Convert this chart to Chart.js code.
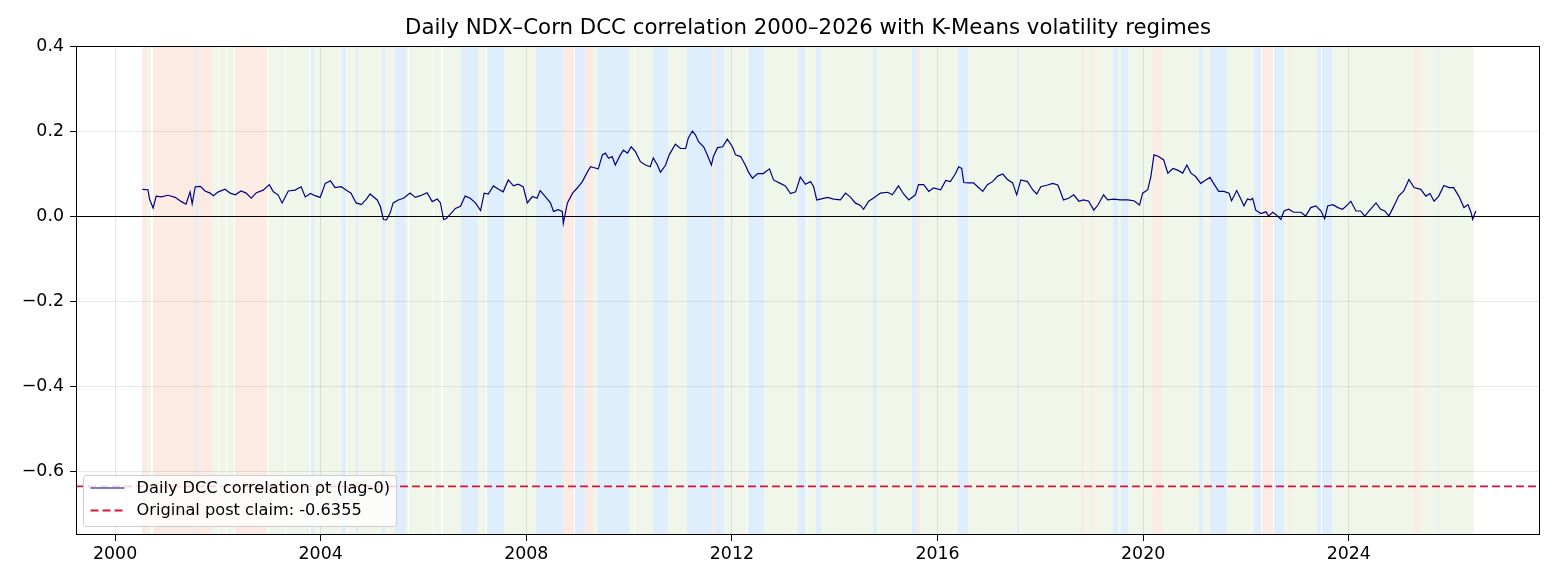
<!DOCTYPE html>
<html>
<head>
<meta charset="utf-8">
<script src="https://cdn.jsdelivr.net/npm/chart.js@4.4.1/dist/chart.umd.min.js"></script>
<style>
  html, body { margin: 0; padding: 0; background: #ffffff; }
  #wrap { width: 1560px; height: 585px; position: relative; }
</style>
</head>
<body>
<div id="wrap"><canvas id="c" width="1560" height="585"></canvas></div>
<script>
// ---------------- DATA ----------------
const chartTitle = "Daily NDX\u2013Corn DCC correlation 2000\u20132026 with K-Means volatility regimes";
const seriesLabel = "Daily DCC correlation \u03c1t (lag-0)";
const claimLabel = "Original post claim: -0.6355";
const claimValue = -0.6355;

const xTicks = [2000, 2004, 2008, 2012, 2016, 2020, 2024];
const yTicks = [-0.6, -0.4, -0.2, 0.0, 0.2, 0.4];
const yTickLabels = ["\u22120.6", "\u22120.4", "\u22120.2", "0.0", "0.2", "0.4"];

const years = [
2000.53,2000.64,2000.67,2000.74,2000.80,2000.90,2001.03,2001.17,2001.29,2001.38,2001.46,2001.50,2001.56,2001.66,2001.75,2001.85,2001.91,
2002.01,2002.14,2002.24,2002.34,2002.45,2002.55,2002.65,2002.75,2002.88,2003.00,2003.08,2003.17,2003.25,2003.37,2003.50,2003.62,2003.70,2003.80,2003.89,2003.99,
2004.09,2004.19,2004.28,2004.40,2004.50,2004.59,2004.69,2004.79,2004.89,2004.96,2005.02,2005.10,2005.16,2005.22,2005.28,2005.35,2005.41,2005.51,2005.61,2005.74,2005.84,2005.94,
2006.07,2006.17,2006.27,2006.33,2006.39,2006.44,2006.52,2006.62,2006.72,2006.81,2006.91,2007.01,2007.11,2007.18,2007.26,2007.36,2007.46,2007.55,2007.65,2007.75,2007.84,2007.94,
2008.02,2008.12,2008.21,2008.27,2008.37,2008.47,2008.53,2008.62,2008.70,2008.72,2008.80,2008.90,2008.99,2009.09,2009.19,2009.25,2009.34,2009.40,2009.48,2009.54,2009.60,2009.67,2009.73,2009.83,2009.89,2009.97,
2010.04,2010.12,2010.22,2010.32,2010.41,2010.47,2010.55,2010.61,2010.71,2010.78,2010.90,2011.00,2011.10,2011.15,2011.23,2011.29,2011.35,2011.45,2011.52,2011.60,2011.64,2011.72,2011.82,2011.91,
2012.01,2012.07,2012.17,2012.26,2012.32,2012.40,2012.50,2012.61,2012.73,2012.81,2012.94,2013.04,2013.14,2013.24,2013.33,2013.43,2013.53,2013.59,2013.65,2013.72,2013.86,2013.98,
2014.11,2014.21,2014.31,2014.40,2014.50,2014.56,2014.66,2014.75,2014.89,2015.03,2015.12,2015.24,2015.34,2015.44,2015.57,2015.63,2015.73,2015.83,2015.92,
2016.06,2016.16,2016.25,2016.35,2016.41,2016.47,2016.51,2016.60,2016.70,2016.78,2016.88,2016.97,2017.07,2017.17,2017.27,2017.36,2017.46,2017.54,2017.62,2017.75,2017.85,2017.93,
2018.01,2018.14,2018.24,2018.34,2018.39,2018.45,2018.55,2018.65,2018.75,2018.84,2018.94,2019.04,2019.12,2019.23,2019.31,2019.43,2019.56,2019.70,2019.82,2019.93,2019.99,
2020.09,2020.15,2020.21,2020.30,2020.40,2020.48,2020.58,2020.67,2020.77,2020.85,2020.93,2021.02,2021.12,2021.22,2021.30,2021.37,2021.47,2021.57,2021.67,2021.72,2021.82,2021.90,2021.96,
2022.03,2022.09,2022.13,2022.19,2022.29,2022.39,2022.44,2022.52,2022.58,2022.68,2022.74,2022.83,2022.93,2023.07,2023.16,2023.26,2023.36,2023.46,2023.53,2023.59,2023.69,2023.79,2023.88,2023.98,
2024.04,2024.14,2024.23,2024.31,2024.43,2024.53,2024.62,2024.70,2024.78,2024.88,2024.97,2025.07,2025.17,2025.27,2025.40,2025.50,2025.58,2025.66,2025.75,2025.85,2025.95,
2026.04,2026.14,2026.24,2026.32,2026.38,2026.41,2026.47
];

const rho = [
0.063,0.062,0.040,0.019,0.047,0.045,0.049,0.044,0.034,0.028,0.057,0.029,0.069,0.070,0.059,0.054,0.048,
0.057,0.063,0.054,0.050,0.059,0.054,0.042,0.055,0.061,0.074,0.057,0.050,0.031,0.059,0.061,0.069,0.045,0.053,0.048,0.044,
0.077,0.083,0.067,0.069,0.061,0.054,0.031,0.027,0.040,0.052,0.046,0.038,0.023,-0.008,-0.009,0.007,0.031,0.038,0.042,0.054,0.044,0.048,
0.055,0.034,0.040,0.031,-0.008,-0.006,0.004,0.018,0.023,0.047,0.042,0.031,0.013,0.054,0.052,0.071,0.063,0.057,0.085,0.071,0.075,0.069,
0.031,0.046,0.042,0.060,0.046,0.031,0.011,0.015,0.011,-0.017,0.031,0.054,0.066,0.081,0.104,0.116,0.113,0.111,0.144,0.148,0.136,0.140,0.120,0.144,0.155,0.148,
0.163,0.152,0.128,0.120,0.116,0.137,0.120,0.103,0.120,0.144,0.169,0.159,0.159,0.183,0.200,0.191,0.175,0.163,0.144,0.120,0.140,0.161,0.163,0.181,
0.163,0.144,0.140,0.120,0.104,0.089,0.100,0.100,0.111,0.085,0.077,0.071,0.053,0.057,0.092,0.075,0.081,0.069,0.038,0.040,0.044,0.040,
0.038,0.054,0.044,0.031,0.025,0.016,0.035,0.042,0.054,0.056,0.050,0.071,0.052,0.038,0.050,0.074,0.074,0.058,0.066,
0.062,0.084,0.081,0.100,0.116,0.112,0.079,0.078,0.078,0.069,0.058,0.074,0.081,0.094,0.099,0.086,0.078,0.050,0.085,0.081,0.062,0.052,
0.069,0.073,0.077,0.073,0.058,0.038,0.042,0.050,0.035,0.038,0.035,0.014,0.026,0.050,0.038,0.040,0.038,0.038,0.036,0.026,0.054,
0.062,0.093,0.144,0.140,0.132,0.101,0.112,0.108,0.101,0.120,0.101,0.093,0.077,0.085,0.091,0.077,0.058,0.058,0.054,0.036,0.060,0.040,0.024,
0.040,0.038,0.042,0.014,0.006,0.010,0.000,0.009,0.004,-0.008,0.012,0.016,0.009,0.009,0.000,0.020,0.024,0.012,-0.006,0.024,0.027,0.020,0.016,0.027,
0.035,0.012,0.012,0.000,0.017,0.031,0.016,0.012,0.000,0.024,0.047,0.059,0.086,0.067,0.063,0.047,0.053,0.035,0.047,0.072,0.067,
0.067,0.047,0.020,0.027,0.008,-0.008,0.012
];

// K-Means regime spans (decimal years) and regime ids: H = high vol, M = medium, L = low
const regimeStart = [
2000.53,2000.62,2000.74,2001.58,2001.62,2001.89,2002.02,2002.18,2002.34,2002.98,2003.33,2003.815,2003.87,2004.42,2004.52,2004.69,2004.73,2005.20,2005.26,2005.45,2005.65,2005.72,2006.21,2006.37,2006.72,2007.07,2007.24,2007.57,2008.18,2008.72,2008.95,2009.15,2009.29,2009.40,2009.99,2010.12,2010.47,2010.76,2011.13,2011.62,2011.68,2011.84,2012.32,2012.63,2013.28,2013.47,2013.63,2013.74,2014.75,2014.83,2015.51,2015.61,2015.67,2016.39,2016.60,2017.54,2017.58,2018.80,2018.84,2019.00,2019.04,2019.41,2019.52,2019.56,2019.70,2020.19,2020.36,2021.08,2021.16,2021.31,2021.63,2022.15,2022.31,2022.54,2022.74,2022.83,2022.87,2023.38,2023.47,2023.67,2025.27,2025.36,2025.73,2025.75
];
const regimeEnd = [
2000.62,2000.70,2001.58,2001.62,2001.89,2002.00,2002.16,2002.32,2002.96,2003.31,2003.80,2003.87,2004.42,2004.50,2004.69,2004.73,2005.20,2005.26,2005.45,2005.65,2005.70,2006.19,2006.35,2006.72,2007.07,2007.22,2007.57,2008.18,2008.72,2008.93,2009.15,2009.29,2009.40,2009.99,2010.10,2010.47,2010.76,2011.13,2011.62,2011.68,2011.84,2012.30,2012.63,2013.28,2013.45,2013.63,2013.74,2014.75,2014.83,2015.51,2015.61,2015.67,2016.39,2016.60,2017.54,2017.58,2018.80,2018.84,2019.00,2019.04,2019.41,2019.52,2019.56,2019.70,2020.19,2020.36,2021.08,2021.16,2021.31,2021.63,2022.15,2022.29,2022.52,2022.74,2022.83,2022.87,2023.38,2023.46,2023.67,2025.27,2025.36,2025.73,2025.75,2026.43
];
const regimeId = [
"H","L","H","M","H","L","L","L","H","L","L","M","L","M","L","M","L","M","L","M","L","L","L","L","M","L","M","L","M","H","M","H","L","M","L","L","M","L","M","H","M","L","M","L","M","L","M","L","M","L","M","H","L","M","L","M","L","H","L","H","L","M","L","M","L","H","L","M","L","M","L","M","H","M","L","H","L","M","M","L","H","L","M","L"
];
const regimeColors = { H: "rgba(252,232,222,0.85)", M: "rgba(220,236,253,0.9)", L: "rgba(237,245,230,0.85)" };

// ---------------- CHART ----------------
const FONT = '"DejaVu Sans", "Liberation Sans", sans-serif';

const bandsPlugin = {
  id: "bands",
  beforeDraw(chart) {
    const { ctx, chartArea: a, scales: { x } } = chart;
    ctx.save();
    ctx.beginPath();
    ctx.rect(a.left, a.top, a.right - a.left, a.bottom - a.top);
    ctx.clip();
    for (let i = 0; i < regimeId.length; i++) {
      const x0 = Math.round(x.getPixelForValue(regimeStart[i]));
      const x1 = Math.round(x.getPixelForValue(regimeEnd[i]));
      ctx.fillStyle = regimeColors[regimeId[i]];
      ctx.fillRect(x0, a.top, Math.max(1, x1 - x0), a.bottom - a.top);
    }
    ctx.restore();
  }
};

const overlayPlugin = {
  id: "overlay",
  afterDatasetsDraw(chart) {
    const { ctx, chartArea: a, scales: { y } } = chart;
    ctx.save();
    const y0 = Math.round(y.getPixelForValue(0)) + 0.5;
    ctx.strokeStyle = "#000000";
    ctx.lineWidth = 1;
    ctx.beginPath(); ctx.moveTo(a.left, y0); ctx.lineTo(a.right, y0); ctx.stroke();
    const yc = y.getPixelForValue(claimValue);
    ctx.strokeStyle = "#dc143c";
    ctx.lineWidth = 1.8;
    ctx.setLineDash([8, 4]);
    ctx.beginPath(); ctx.moveTo(a.left, yc); ctx.lineTo(a.right, yc); ctx.stroke();
    ctx.setLineDash([]);
    ctx.restore();
  },
  afterDraw(chart) {
    const { ctx, chartArea: a } = chart;
    ctx.save();
    ctx.strokeStyle = "#000000";
    ctx.lineWidth = 1;
    ctx.strokeRect(a.left + 0.5, a.top + 0.5, a.right - a.left - 1, a.bottom - a.top - 1);
    ctx.fillStyle = "#000000";
    ctx.font = "21.3px " + FONT;
    ctx.textAlign = "center";
    ctx.textBaseline = "middle";
    ctx.fillText(chartTitle, (a.left + a.right) / 2, 28);
    // legend
    const bx = a.left + 7.5, bw = 313, bh = 51, by = a.bottom - 9 - bh + 0.5;
    ctx.fillStyle = "rgba(255,255,255,0.8)";
    ctx.strokeStyle = "rgba(204,204,204,1)";
    ctx.lineWidth = 1;
    ctx.beginPath();
    if (ctx.roundRect) ctx.roundRect(bx, by, bw, bh, 3); else ctx.rect(bx, by, bw, bh);
    ctx.fill(); ctx.stroke();
    const r1 = by + 12.5, r2 = by + 35;
    ctx.strokeStyle = "#000080"; ctx.lineWidth = 1.2;
    ctx.beginPath(); ctx.moveTo(bx + 7, r1); ctx.lineTo(bx + 41, r1); ctx.stroke();
    ctx.strokeStyle = "#dc143c"; ctx.lineWidth = 1.8; ctx.setLineDash([8, 4]);
    ctx.beginPath(); ctx.moveTo(bx + 7, r2); ctx.lineTo(bx + 41, r2); ctx.stroke();
    ctx.setLineDash([]);
    ctx.fillStyle = "#000000";
    ctx.font = "16.2px " + FONT;
    ctx.textAlign = "left";
    ctx.textBaseline = "middle";
    ctx.fillText(seriesLabel, bx + 53, r1 + 0.5);
    ctx.fillText(claimLabel, bx + 53, r2 + 0.5);
    ctx.restore();
  }
};

new Chart(document.getElementById("c"), {
  type: "line",
  data: {
    datasets: [{
      label: seriesLabel,
      data: years.map((t, i) => ({ x: t, y: rho[i] })),
      borderColor: "#000080",
      borderWidth: 1.2,
      pointRadius: 0,
      tension: 0,
      fill: false
    }]
  },
  options: {
    responsive: false,
    animation: false,
    devicePixelRatio: 1,
    layout: { padding: { top: 46, right: 20, left: 0, bottom: 0 } },
    plugins: { legend: { display: false }, title: { display: false }, tooltip: { enabled: false } },
    scales: {
      x: {
        type: "linear",
        min: 1999.24,
        max: 2027.72,
        afterBuildTicks: s => { s.ticks = xTicks.map(v => ({ value: v })); },
        afterFit: s => { s.height = 50; },
        ticks: { color: "#000", font: { family: FONT, size: 17.4 }, padding: 3, maxRotation: 0, autoSkip: false,
                 callback: v => String(v) },
        grid: { color: "rgba(0,0,0,0.09)", tickColor: "#000", tickLength: 6, lineWidth: 1 },
        border: { display: false }
      },
      y: {
        type: "linear",
        min: -0.75,
        max: 0.4,
        afterBuildTicks: s => { s.ticks = yTicks.map(v => ({ value: v })); },
        afterFit: s => { s.width = 76; },
        ticks: { color: "#000", font: { family: FONT, size: 17.4 }, padding: 6,
                 callback: (v, i) => yTickLabels[i] },
        grid: { color: "rgba(0,0,0,0.09)", tickColor: "#000", tickLength: 6, lineWidth: 1 },
        border: { display: false }
      }
    }
  },
  plugins: [bandsPlugin, overlayPlugin]
});
</script>
</body>
</html>
